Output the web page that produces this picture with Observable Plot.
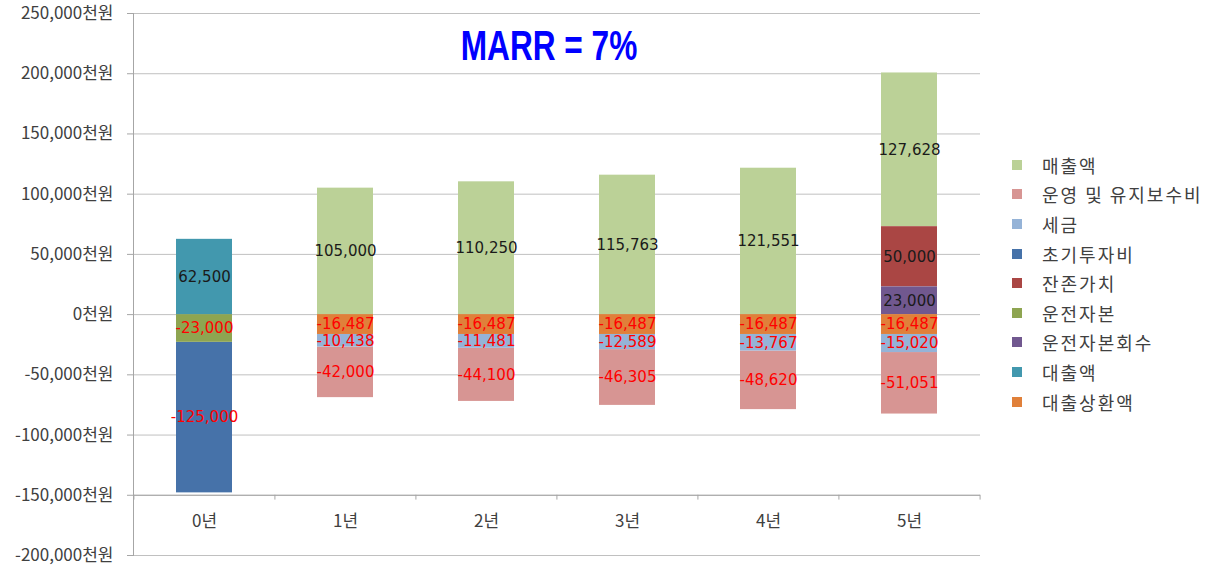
<!DOCTYPE html>
<html>
<head>
<meta charset="utf-8">
<script src="https://cdn.jsdelivr.net/npm/d3@7"></script>
<script src="https://cdn.jsdelivr.net/npm/@observablehq/plot@0.6"></script>
<style>
  body { margin: 0; background: #fff; }
  #wrap { position: relative; width: 1211px; height: 567px; overflow: hidden; }
  #title { position: absolute; left: 399px; width: 300px; top: 20px; text-align: center;
    font-family: "Liberation Sans", Arial, sans-serif; font-weight: bold;
    font-size: 43px; color: #0000ff; transform: scaleX(0.735); white-space: nowrap; line-height: 50px; }
  #legend { position: absolute; left: 1012px; top: 150px; font-family: "Noto Sans CJK KR", sans-serif;
    font-size: 18px; letter-spacing: 2px; color: #404040; }
  .row { display: flex; align-items: center; height: 29.6px; }
  .sw { width: 10px; height: 10px; margin-right: 20px; }
</style>
</head>
<body>
<div id="wrap">
  <div id="chart"></div>
  <div id="title">MARR = 7%</div>
  <div id="legend"></div>
</div>
<script>
const years = ["0년", "1년", "2년", "3년", "4년", "5년"];
const series = ["매출액", "운영 및 유지보수비", "세금", "초기투자비", "잔존가치", "운전자본", "운전자본회수", "대출액", "대출상환액"];
const colors = ["#bbd197", "#d79593", "#95b3d7", "#4672a9", "#aa4644", "#8ea551", "#71588f", "#4298ae", "#e0803a"];

const sales        = [null, 105000, 110250, 115763, 121551, 127628];
const opex         = [null, -42000, -44100, -46305, -48620, -51051];
const tax          = [null, -10438, -11481, -12589, -13767, -15020];
const initialInv   = [-125000, null, null, null, null, null];
const salvage      = [null, null, null, null, null, 50000];
const workingCap   = [-23000, null, null, null, null, null];
const workingCapRec= [null, null, null, null, null, 23000];
const loan         = [62500, null, null, null, null, null];
const repayment    = [null, -16487, -16487, -16487, -16487, -16487];

const seriesValues = [sales, opex, tax, initialInv, salvage, workingCap, workingCapRec, loan, repayment];
const yTicks = d3.range(-200000, 250001, 50000);
const axisCross = -150000;

const rows = [];
seriesValues.forEach((vals, si) => {
  vals.forEach((v, yi) => {
    if (v != null) rows.push({year: years[yi], series: series[si], value: v});
  });
});
const stackOrder = series.slice().reverse();
const fmt = d3.formatLocale({decimal: ".", thousands: ",", grouping: [3], currency: ["", ""], minus: "-"}).format(",");

const W = 1211, ML = 133, MR = 231;
const step = (W - ML - MR) / years.length;

const chart = Plot.plot({
  width: W,
  height: 567,
  marginLeft: ML,
  marginRight: MR,
  marginTop: 13,
  marginBottom: 12,
  x: {domain: years, paddingInner: 0.6, paddingOuter: 0.3, axis: null},
  y: {domain: [-200000, 250000], label: null},
  color: {domain: series, range: colors},
  style: {fontFamily: "'Noto Sans CJK KR', sans-serif", fontSize: "16px", color: "#404040", background: "transparent"},
  marks: [
    Plot.gridY(yTicks, {stroke: "#c0c0c0", strokeOpacity: 1}),
    Plot.axisY(yTicks, {label: null, tickSize: 6, tickPadding: 14, tickFormat: d => fmt(d) + "천원", stroke: "#a6a6a6", fill: "#404040", fontSize: 17}),
    Plot.frame({anchor: "left", stroke: "#a6a6a6"}),
    Plot.ruleY([axisCross], {stroke: "#a6a6a6"}),
    Plot.ruleX(years, {x: d => d, dx: -step / 2, stroke: "#a6a6a6",
      y1: () => axisCross, y2: () => axisCross - 4000}),
    Plot.ruleX(years.slice(-1), {x: d => d, dx: step / 2, stroke: "#a6a6a6",
      y1: () => axisCross, y2: () => axisCross - 4000}),
    Plot.barY(rows, Plot.stackY({x: "year", y: "value", fill: "series", z: "series", order: stackOrder})),
    Plot.text(rows, Plot.stackY({x: "year", y: "value", z: "series", order: stackOrder, filter: d => d.value > 0,
      text: d => fmt(d.value), fill: "#1a1a1a", fontSize: 15, fontFamily: "'DejaVu Sans', sans-serif"})),
    Plot.text(rows, Plot.stackY({x: "year", y: "value", z: "series", order: stackOrder, filter: d => d.value < 0,
      text: d => fmt(d.value), fill: "#ff0000", fontSize: 15, fontFamily: "'DejaVu Sans', sans-serif"})),
    Plot.text(years, {x: d => d, frameAnchor: "bottom", dy: -34, lineAnchor: "middle", fill: "#404040", fontSize: 17})
  ]
});
document.getElementById("chart").appendChild(chart);

const legend = document.getElementById("legend");
series.forEach((s, i) => {
  const row = document.createElement("div");
  row.className = "row";
  const sw = document.createElement("div");
  sw.className = "sw";
  sw.style.background = colors[i];
  const t = document.createElement("span");
  t.textContent = s;
  row.appendChild(sw);
  row.appendChild(t);
  legend.appendChild(row);
});
</script>
</body>
</html>
